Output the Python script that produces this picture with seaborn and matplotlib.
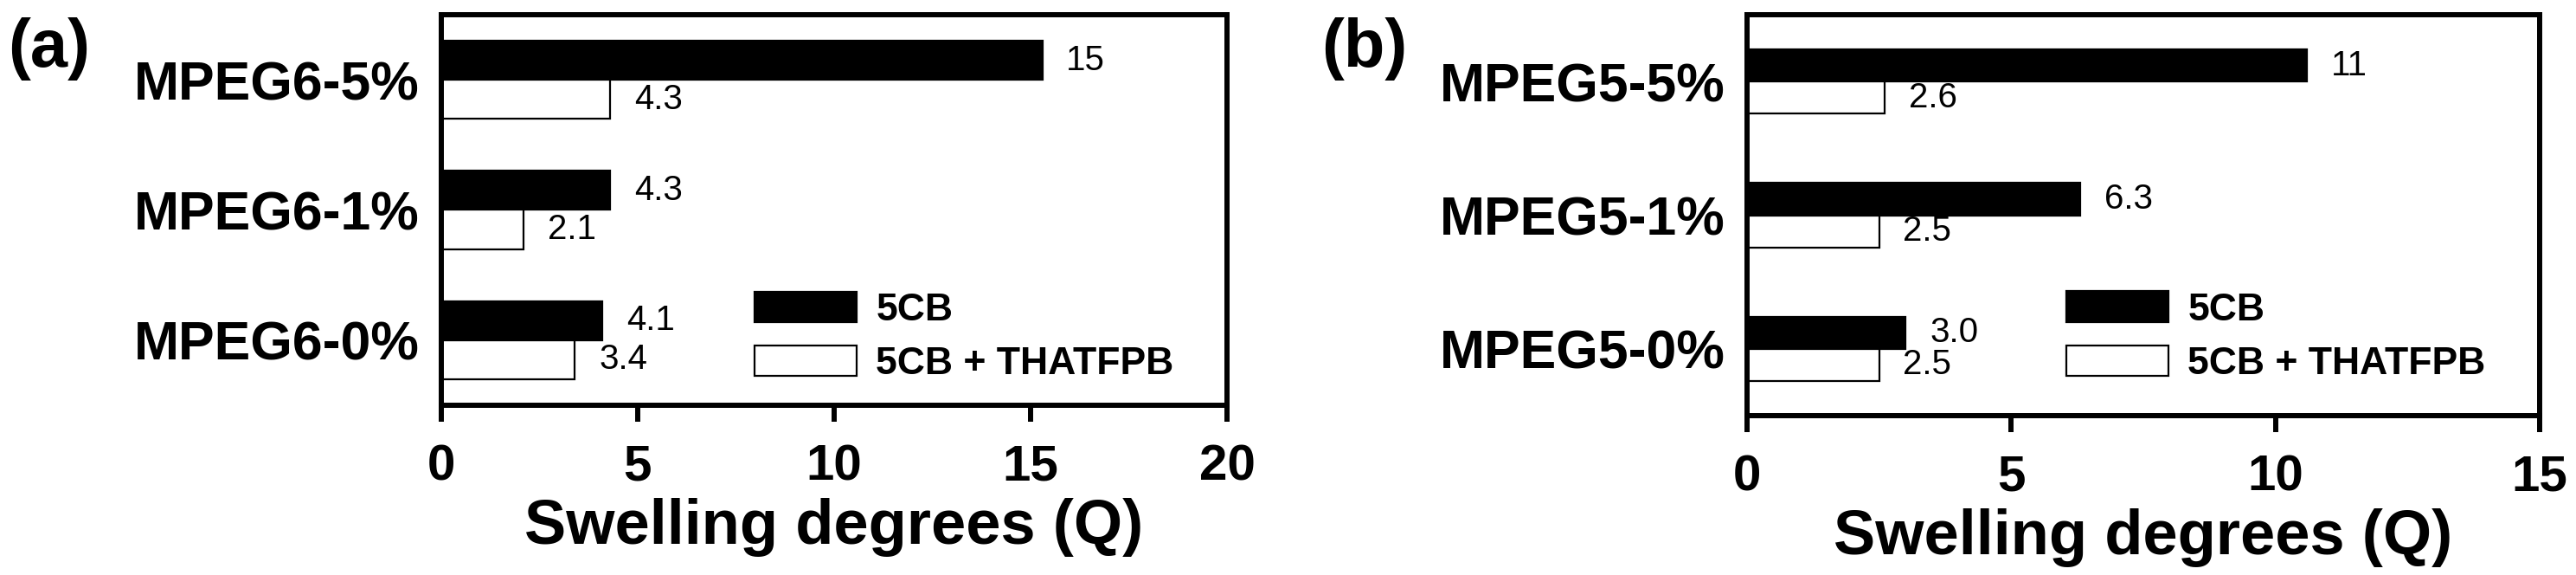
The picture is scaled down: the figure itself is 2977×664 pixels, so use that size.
import pandas as pd
import seaborn as sns
import matplotlib.pyplot as plt

# panel (a): MPEG6 series
a_samples = ["MPEG6-5%", "MPEG6-1%", "MPEG6-0%"]
a_5cb = [15.3, 4.3, 4.1]
a_thatfpb = [4.3, 2.1, 3.4]
a_5cb_text = ["15", "4.3", "4.1"]
a_thatfpb_text = ["4.3", "2.1", "3.4"]

# panel (b): MPEG5 series
b_samples = ["MPEG5-5%", "MPEG5-1%", "MPEG5-0%"]
b_5cb = [10.6, 6.3, 3.0]
b_thatfpb = [2.6, 2.5, 2.5]
b_5cb_text = ["11", "6.3", "3.0"]
b_thatfpb_text = ["2.6", "2.5", "2.5"]

series = ["5CB", "5CB + THATFPB"]

sns.set_style("ticks")
plt.rcParams["font.family"] = ["Liberation Sans", "DejaVu Sans"]
plt.rcParams.update({
    "text.color": "black", "axes.labelcolor": "black", "axes.edgecolor": "black",
    "xtick.color": "black", "ytick.color": "black",
})


def long_df(samples, v1, v2):
    return pd.DataFrame({
        "Sample": samples * 2,
        "Q": v1 + v2,
        "System": [series[0]] * len(samples) + [series[1]] * len(samples),
    })


def draw(ax, df, texts, xmax, width, leg_xy):
    sns.barplot(
        data=df, x="Q", y="Sample", hue="System", hue_order=series,
        palette=["black", "white"], orient="h", width=width,
        edgecolor="black", linewidth=1.6, legend=False, ax=ax,
    )
    for cont, lab in zip(ax.containers, texts):
        ax.bar_label(cont, labels=lab, padding=20, fontsize=29, color="black")

    ax.set_xlim(0, xmax)
    ax.set_xticks(range(0, xmax + 1, 5))
    ax.set_ylim(2.5, -0.5)
    ax.set_ylabel("")
    ax.set_xlabel("Swelling degrees (Q)", fontsize=52, fontweight="bold", labelpad=6)
    for s in ax.spines.values():
        s.set_linewidth(4.3)
        s.set_visible(True)
        s.set_color("black")
    ax.tick_params(axis="x", length=14, width=4.3, pad=18, labelsize=42)
    ax.tick_params(axis="y", length=0, pad=18, labelsize=45)
    for t in ax.get_xticklabels() + ax.get_yticklabels():
        t.set_fontweight("bold")

    handles = [ax.containers[0][0], ax.containers[1][0]]
    ax.legend(
        handles, series, loc="lower left", bbox_to_anchor=leg_xy,
        frameon=False, prop={"size": 32, "weight": "bold"},
        handlelength=2.65, handleheight=0.85, handletextpad=0.5,
        labelspacing=0.45, borderpad=0, borderaxespad=0,
    )


fig = plt.figure(figsize=(29.77, 6.64), dpi=100)
ax_a = fig.add_axes([0.1713, 0.2952, 0.3050, 0.6792])
ax_b = fig.add_axes([0.6782, 0.2771, 0.3077, 0.6973])

draw(ax_a, long_df(a_samples, a_5cb, a_thatfpb), [a_5cb_text, a_thatfpb_text],
     20, 0.6, (0.399, 0.06))
draw(ax_b, long_df(b_samples, b_5cb, b_thatfpb), [b_5cb_text, b_thatfpb_text],
     15, 0.48, (0.403, 0.085))

fig.text(0.003, 0.915, "(a)", fontsize=56, fontweight="bold", va="center", ha="left")
fig.text(0.513, 0.915, "(b)", fontsize=56, fontweight="bold", va="center", ha="left")

fig.savefig("out.png", dpi=100)
plt.close(fig)
